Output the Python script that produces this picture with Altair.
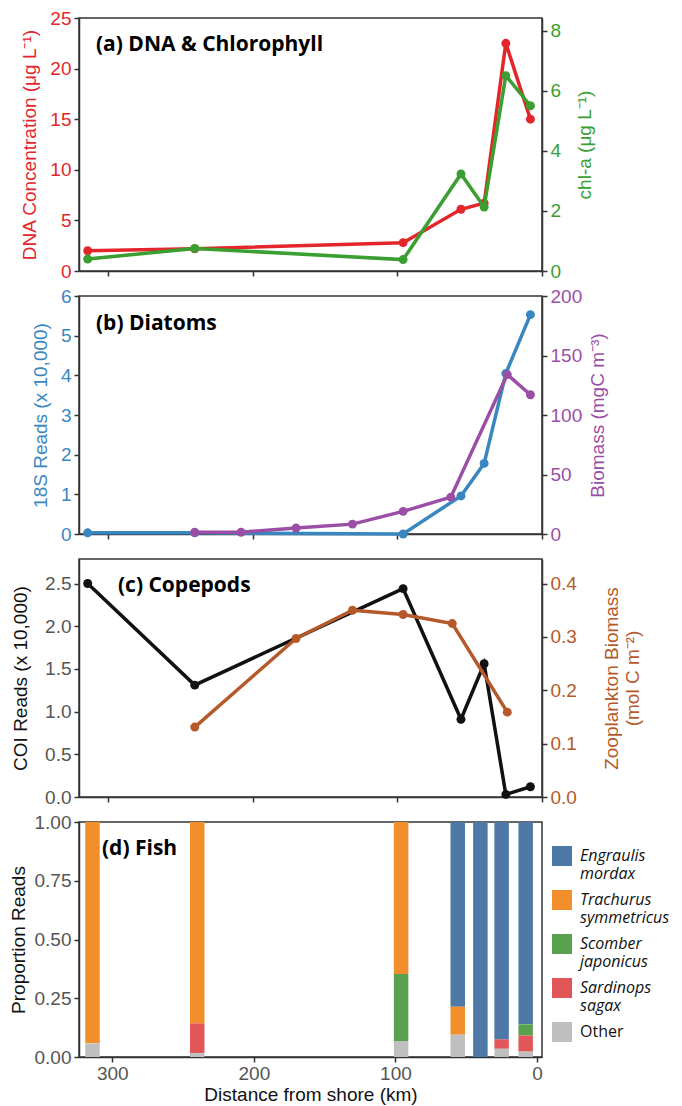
import altair as alt
import pandas as pd

# ---------------- data ----------------
stations_km = [314, 240, 96, 56, 40, 25, 8]
x_tick_values = [300, 200, 100, 0]

# (a) DNA & chlorophyll
dna_conc = [2.0, 2.2, 2.8, 6.1, 6.7, 22.5, 15.0]
chl_a = [0.40, 0.75, 0.38, 3.23, 2.13, 6.50, 5.50]

# (b) Diatoms
reads_18s = [0.03, 0.03, 0.0, 0.96, 1.78, 4.05, 5.53]
diatom_km = [240, 208, 170, 131, 96, 63, 24, 8]
diatom_biomass = [1.5, 1.5, 5.0, 8.3, 19.0, 31.0, 134.0, 117.0]

# (c) Copepods
coi_reads = [2.50, 1.31, 2.44, 0.91, 1.56, 0.03, 0.12]
zoo_km = [240, 170, 131, 96, 62, 24]
zoo_biomass = [0.131, 0.297, 0.350, 0.342, 0.325, 0.159]

# (d) Fish (proportion of reads)
species = ["Engraulis mordax", "Trachurus symmetricus", "Scomber japonicus",
           "Sardinops sagax", "Other"]
species_colors = ["#4e79a7", "#f28e2b", "#59a14f", "#e15759", "#bfbfbf"]
stack_order = [4, 3, 2, 1, 0]
engraulis = [0.0, 0.0, 0.0, 0.786, 1.0, 0.925, 0.861]
trachurus = [0.942, 0.857, 0.647, 0.119, 0.0, 0.0, 0.0]
scomber = [0.0, 0.0, 0.285, 0.0, 0.0, 0.0, 0.048]
sardinops = [0.0, 0.127, 0.0, 0.0, 0.0, 0.040, 0.068]
other = [0.058, 0.016, 0.068, 0.095, 0.0, 0.035, 0.023]

# ---------------- style ----------------
RED = "#e3262b"
GREEN = "#3a9e30"
BLUE = "#3a87c0"
PURPLE = "#9a4ea6"
BROWN = "#b5592a"
BLACK = "#111111"
GREY_LBL = "#555555"

W = 463
XSCALE = alt.Scale(domain=[0, 320], reverse=True, nice=False, zero=False)
X_AXIS_PLAIN = alt.Axis(values=x_tick_values, labels=False, title=None, grid=False)
X_AXIS_FULL = alt.Axis(values=x_tick_values, title="Distance from shore (km)", grid=False,
                       labelColor=GREY_LBL, titleColor=BLACK, labelPadding=2, titlePadding=2,
                       titleFontSize=19)


def series(km, vals, color, y_scale, y_axis):
    df = pd.DataFrame({"km": km, "v": vals})
    base = alt.Chart(df).encode(
        x=alt.X("km:Q", scale=XSCALE, axis=X_AXIS_PLAIN),
        y=alt.Y("v:Q", scale=y_scale, axis=y_axis),
    )
    return alt.layer(
        base.mark_line(color=color, strokeWidth=3.5),
        base.mark_circle(color=color, size=80, opacity=1),
    )


def panel_label(text, dx, dy):
    return alt.Chart(pd.DataFrame({"t": [text]})).mark_text(
        font="Open Sans", fontWeight="bold", fontSize=21, align="left",
        baseline="middle", color="black",
    ).encode(x=alt.value(dx), y=alt.value(dy), text="t:N")


def right_axis(title, values, color, pad, fmt=None):
    kw = dict(orient="right", title=title, values=values, labelColor=color, titleColor=color,
              titlePadding=pad, titleAngle=270, titleBaseline="top")
    if fmt:
        kw["format"] = fmt
    return alt.Axis(**kw)


# ---------------- (a) ----------------
pa = alt.layer(
    series(stations_km, dna_conc, RED,
           alt.Scale(domain=[0, 25], nice=False),
           alt.Axis(orient="left", title="DNA Concentration  (μg L⁻¹)", values=[0, 5, 10, 15, 20, 25],
                    labelColor=RED, titleColor=RED, titlePadding=10)),
    series(stations_km, chl_a, GREEN,
           alt.Scale(domain=[0, 8.42], nice=False),
           right_axis("chl-a  (μg L⁻¹)", [0, 2, 4, 6, 8], GREEN, 15)),
    panel_label("(a) DNA & Chlorophyll", 17, 27),
).resolve_scale(y="independent").properties(width=W, height=253)

# ---------------- (b) ----------------
pb = alt.layer(
    series(stations_km, reads_18s, BLUE,
           alt.Scale(domain=[0, 6], nice=False),
           alt.Axis(orient="left", title="18S Reads (x 10,000)", values=[0, 1, 2, 3, 4, 5, 6],
                    labelColor=BLUE, titleColor=BLUE, titlePadding=10)),
    series(diatom_km, diatom_biomass, PURPLE,
           alt.Scale(domain=[0, 200], nice=False),
           right_axis("Biomass (mgC m⁻³)", [0, 50, 100, 150, 200], PURPLE, 7)),
    panel_label("(b) Diatoms", 17, 28),
).resolve_scale(y="independent").properties(width=W, height=238)

# ---------------- (c) ----------------
pc = alt.layer(
    series(stations_km, coi_reads, BLACK,
           alt.Scale(domain=[0, 2.787], nice=False),
           alt.Axis(orient="left", title="COI Reads (x 10,000)", values=[0, 0.5, 1.0, 1.5, 2.0, 2.5],
                    format=".1f", labelColor=GREY_LBL, titleColor=BLACK, titlePadding=14)),
    series(zoo_km, zoo_biomass, BROWN,
           alt.Scale(domain=[0, 0.446], nice=False),
           right_axis(["Zooplankton Biomass", "(mol C m⁻²)"], [0, 0.1, 0.2, 0.3, 0.4], BROWN, 5, ".1f")),
    panel_label("(c) Copepods", 39, 27),
).resolve_scale(y="independent").properties(width=W, height=238)

# ---------------- (d) ----------------
rows = []
props = [engraulis, trachurus, scomber, sardinops, other]
for s, o, vals in zip(species, stack_order, props):
    for km, v in zip(stations_km, vals):
        rows.append({"km": km, "species": s, "ord": o, "p": v})
fish = pd.DataFrame(rows)

bars = alt.Chart(fish).mark_bar(size=14.5).encode(
    x=alt.X("km:Q", scale=XSCALE, axis=X_AXIS_FULL),
    y=alt.Y("p:Q", stack="zero", scale=alt.Scale(domain=[0, 1], nice=False),
            axis=alt.Axis(title="Proportion Reads", values=[0, 0.25, 0.5, 0.75, 1.0], format=".2f",
                          labelColor=GREY_LBL, titleColor=BLACK, titlePadding=6)),
    color=alt.Color("species:N",
                    scale=alt.Scale(domain=species, range=species_colors),
                    legend=alt.Legend(title=None, orient="none", legendX=473, legendY=24,
                                      symbolType="square", symbolSize=400, symbolStrokeWidth=0,
                                      symbolOpacity=1,
                                      labelFont="Open Sans", labelFontSize=16,
                                      labelFontStyle={"expr": "datum.label == 'Other' ? 'normal' : 'italic'"},
                                      labelColor="#111111",
                                      labelExpr="split(datum.label, ' ')", labelLimit=200,
                                      rowPadding=8, labelOffset=8)),
    order=alt.Order("ord:Q"),
)
pd_ = alt.layer(bars, panel_label("(d) Fish", 23, 27)).properties(width=W, height=235)

chart = alt.vconcat(pa, pb, pc, pd_, spacing=25, bounds="flush").resolve_legend(
    color="independent"
).properties(
    padding={"left": 0, "top": 0, "right": 0, "bottom": 0}
).configure_view(
    stroke="#333333", strokeWidth=1.5
).configure_axis(
    domainColor="#333333", tickColor="#333333", domainWidth=1.5, tickWidth=1.5, tickSize=5,
    labelFont="Liberation Sans", titleFont="Liberation Sans", labelFontSize=19, titleFontSize=19,
    titleFontWeight="normal", grid=False, labelPadding=3,
)

chart.save("out.html", embed_options={"renderer": "svg", "actions": False})
